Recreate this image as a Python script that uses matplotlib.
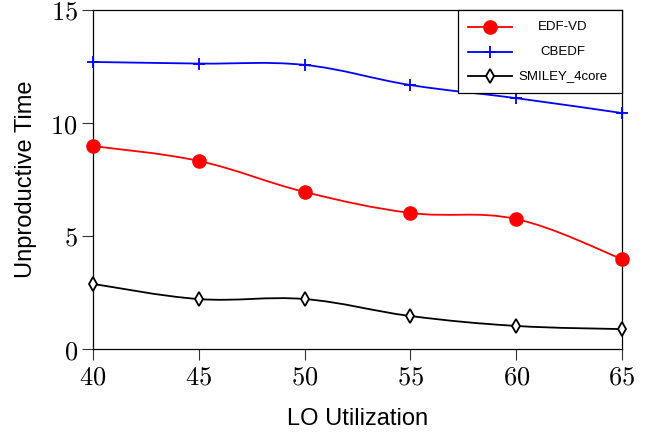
import numpy as np
import matplotlib
matplotlib.use("Agg")
import matplotlib.pyplot as plt
from matplotlib.path import Path
from matplotlib.patches import PathPatch, Rectangle
from matplotlib.lines import Line2D

plt.rcParams['mathtext.fontset'] = 'cm'

x_vals = [40, 45, 50, 55, 60, 65]
edf_vd = [8.98, 8.32, 6.95, 6.02, 5.75, 3.98]
cbedf = [12.70, 12.63, 12.57, 11.68, 11.10, 10.44]
smiley = [2.88, 2.21, 2.21, 1.46, 1.02, 0.88]
series_names = ["EDF-VD", "CBEDF", "SMILEY_4core"]
x_ticks = [40, 45, 50, 55, 60, 65]
y_ticks = [0, 5, 10, 15]

fig = plt.figure(figsize=(6.61, 4.34), dpi=100)
ax = fig.add_axes([93/661, 1-349/434, (622-93)/661, (349-10)/434])


def smooth_path(xs, ys, tension=0.55):
    xs = np.asarray(xs, float); ys = np.asarray(ys, float)
    n = len(xs)
    verts = [(xs[0], ys[0])]
    codes = [Path.MOVETO]
    t = tension / 3.0
    for i in range(n - 1):
        p0 = (xs[max(i-1, 0)], ys[max(i-1, 0)])
        p1 = (xs[i], ys[i]); p2 = (xs[i+1], ys[i+1])
        p3 = (xs[min(i+2, n-1)], ys[min(i+2, n-1)])
        c1 = (p1[0] + t*(p2[0]-p0[0]), p1[1] + t*(p2[1]-p0[1]))
        c2 = (p2[0] - t*(p3[0]-p1[0]), p2[1] - t*(p3[1]-p1[1]))
        verts += [c1, c2, p2]
        codes += [Path.CURVE4]*3
    return Path(verts, codes)


styles = [
    dict(color='red', marker='o', ms=9.5, mfc='red', mec='red', mew=1),
    dict(color='blue', marker='+', ms=8, mfc='blue', mec='blue', mew=1.3),
    dict(color='black', marker='d', ms=7, mfc='white', mec='black', mew=1.3),
]
for ys, st in zip([edf_vd, cbedf, smiley], styles):
    ax.add_patch(PathPatch(smooth_path(x_vals, ys), fc='none', ec=st['color'], lw=1.3, zorder=2,
                           clip_on=False))
    ax.plot(x_vals, ys, ls='none', marker=st['marker'], ms=st['ms'], mfc=st['mfc'],
            mec=st['mec'], mew=st['mew'], zorder=3, clip_on=False)

ax.set_xlim(40, 65)
ax.set_ylim(0, 15)
ax.set_xticks(x_ticks)
ax.set_xticklabels([f"${v}$" for v in x_ticks], fontsize=19)
ax.set_yticks(y_ticks)
ax.set_yticklabels([f"${v}$" for v in y_ticks], fontsize=19)
ax.tick_params(direction='out', length=8, width=0.8, color='#333333', pad=3)
for s in ax.spines.values():
    s.set_linewidth(0.9)

ax.set_xlabel("LO Utilization", fontsize=17, family='Liberation Sans', labelpad=13)
ax.set_ylabel("Unproductive Time", fontsize=17, family='Liberation Sans', labelpad=10)

# legend drawn as a centred-text box (pgfplots style)
lx0, ly0 = 0.690, 0.754
ax.add_patch(Rectangle((lx0, ly0), 1 - lx0, 1 - ly0, transform=ax.transAxes, fc='white',
                       ec='black', lw=0.9, zorder=10, clip_on=False))
row_y = [0.949, 0.877, 0.805]
for yy, st, name in zip(row_y, styles, series_names):
    ax.add_line(Line2D([0.709, 0.792], [yy, yy], transform=ax.transAxes, color=st['color'],
                       lw=1.3, zorder=11, clip_on=False))
    ax.add_line(Line2D([0.7505], [yy], transform=ax.transAxes, ls='none', marker=st['marker'],
                       ms=st['ms'], mfc=st['mfc'], mec=st['mec'], mew=st['mew'], zorder=12,
                       clip_on=False))
    ax.text(0.888, yy, name, transform=ax.transAxes, ha='center', va='center',
            family='Liberation Sans', fontsize=9.5, zorder=12)

fig.savefig("out.png", dpi=100)
